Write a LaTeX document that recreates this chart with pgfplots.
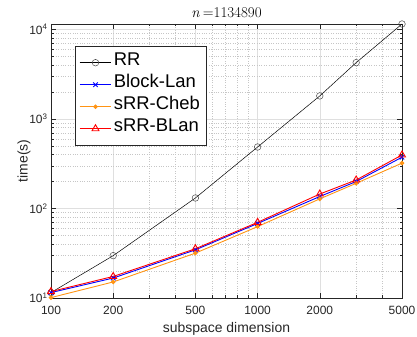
\documentclass[border=0pt]{standalone}
\usepackage{fontspec}
\setmainfont{Liberation Sans}
\newfontfamily\lmfont{Latin Modern Roman}
\usepackage{pgfplots}
\pgfplotsset{compat=1.18}
\definecolor{axgray}{rgb}{0.15,0.15,0.15}
\definecolor{cheb}{rgb}{1,0.58,0.08}
\begin{document}
\begin{tikzpicture}
\begin{axis}[
  scale only axis,
  width=351bp, height=274bp,
  xmode=log, ymode=log,
  xmin=100, xmax=5000, ymin=10, ymax=11500,
  xtick={100,200,500,1000,2000,5000},
  xticklabels={100,200,500,1000,2000,5000},
  minor xtick={300,400,600,700,800,900,3000,4000},
  ytick={10,100,1000,10000},
  yticklabels={10\textsuperscript{1},10\textsuperscript{2},10\textsuperscript{3},10\textsuperscript{4}},
  minor ytick={20,30,40,50,60,70,80,90,200,300,400,500,600,700,800,900,2000,3000,4000,5000,6000,7000,8000,9000},
  grid=both,
  major grid style={gray!25, line width=0.5bp},
  minor grid style={gray!45, dotted, line width=0.5bp},
  axis line style={axgray, line width=0.6bp},
  tick style={axgray, line width=0.5bp},
  major tick length=5bp, minor tick length=2.5bp,
  tick align=inside,
  ticklabel style={font=\fontsize{12}{14}\selectfont, text=axgray},
  xticklabel style={yshift=-5bp},
  xlabel={subspace dimension}, ylabel={time(s)},
  label style={font=\fontsize{14}{16}\selectfont, text=axgray},
  xlabel style={yshift=-1bp},
  ylabel style={yshift=-8bp},
  title={\lmfont\textit{n}\kern3bp=1134890},
  title style={font=\fontsize{15}{17}\selectfont, yshift=-3bp},
  legend style={at={(0.068,0.92)}, anchor=north west, draw=axgray, line width=0.6bp,
    font=\fontsize{18.5}{20}\selectfont, inner xsep=4bp, inner ysep=5.5bp, row sep=0bp,
    nodes={inner ysep=0bp, text height=14bp, text depth=8bp}},
  legend cell align=left,
  legend image code/.code={\draw[mark repeat=2,mark phase=2] plot coordinates {(0cm,0cm) (0.56cm,0cm) (1.12cm,0cm)};},
]
\coordinate (sw) at (rel axis cs:0,0);
\coordinate (ne) at (rel axis cs:1,1);
\addplot[black, line width=0.5bp, mark=o, mark size=3.3bp, mark options={draw=black!70, solid}] coordinates {
(100,11.5) (200,29.7) (500,131) (1000,486) (2000,1808) (3000,4256) (5000,11500)};
\addlegendentry{RR}
\addplot[blue, line width=0.9bp, mark=x, mark size=3.2bp] coordinates {
(100,11.5) (200,16.7) (500,34.5) (1000,68) (2000,136) (3000,200) (5000,374)};
\addlegendentry{Block-Lan}
\addplot[cheb, line width=0.9bp, mark=*, mark size=1.8bp] coordinates {
(100,10.1) (200,15.1) (500,31.7) (1000,62.7) (2000,128) (3000,191) (5000,321)};
\addlegendentry{sRR-Cheb}
\addplot[red, line width=0.9bp, mark=triangle, mark size=4bp] coordinates {
(100,11.8) (200,17.4) (500,35.5) (1000,70) (2000,145) (3000,208) (5000,396)};
\addlegendentry{sRR-BLan}
\end{axis}
\pgfresetboundingbox
\path[use as bounding box] ([shift={(-51bp,-39bp)}]sw) rectangle ([shift={(15bp,24bp)}]ne);
\end{tikzpicture}
\end{document}
